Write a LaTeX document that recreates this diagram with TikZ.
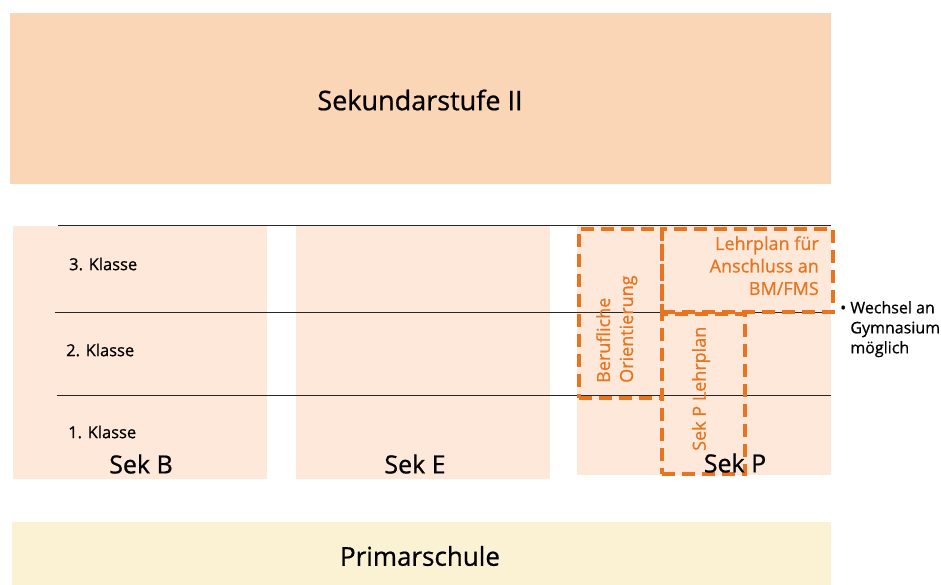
\documentclass[tikz,border=0pt]{standalone}
\usepackage{fontspec}
\setmainfont{Open Sans}[FakeBold=0.7]
\definecolor{peach}{HTML}{FAD5B6}
\definecolor{lightpeach}{HTML}{FDE8DA}
\definecolor{cream}{HTML}{FBF2D3}
\definecolor{orng}{HTML}{E8741F}
\begin{document}
\begin{tikzpicture}[x=1pt,y=-1pt,
  block/.style={anchor=north west,inner sep=0pt,outer sep=0pt,draw=none},
  dbox/.style={draw=orng,line width=3.5pt,dash pattern=on 13pt off 7pt,anchor=north west,inner sep=0pt},
  otext/.style={text=orng,font=\fontsize{18}{23}\selectfont,inner sep=0pt},
  klasse/.style={anchor=west,font=\fontsize{16.5}{20}\selectfont,inner sep=0pt},
  sek/.style={font=\fontsize{25}{30}\selectfont,inner sep=0pt},
  divider/.style={line width=1pt,draw=black!85}]
\useasboundingbox (0,0) rectangle (941,585);
% big blocks
\node[block,fill=peach,minimum width=821pt,minimum height=171pt] (s2) at (10,13) {};
\node[font=\fontsize{27}{32}\selectfont] (s2t) at (420,100) {Sekundarstufe II};
\node[block,fill=cream,minimum width=819pt,minimum height=63pt] (prim) at (12,522) {};
\node[font=\fontsize{26}{31}\selectfont] (primt) at (420,556) {Primarschule};
% columns
\node[block,fill=lightpeach,minimum width=254pt,minimum height=253pt] (sb) at (13,226) {};
\node[block,fill=lightpeach,minimum width=254pt,minimum height=253pt] (se) at (296,226) {};
\node[block,fill=lightpeach,minimum width=254pt,minimum height=249pt] (sp) at (577,226) {};
% dividers
\coordinate (l1a) at (58,226); \coordinate (l1b) at (831,226);
\coordinate (l2a) at (55,312); \coordinate (l2b) at (833,312);
\coordinate (l3a) at (57,395); \coordinate (l3b) at (831,395);
\draw[divider] (l1a) -- (l1b);
\draw[divider] (l2a) -- (l2b);
\draw[divider] (l3a) -- (l3b);
% class labels
\node[klasse] (k3) at (69,264) {3. Klasse};
\node[klasse] (k2) at (66,350) {2. Klasse};
\node[klasse] (k1) at (68,432) {1. Klasse};
% Sek labels
\node[sek] (sbt) at (141,464) {Sek B};
\node[sek] (set) at (415,464) {Sek E};
% dashed boxes
\node[dbox,minimum width=83pt,minimum height=169pt] (bo) at (577,227) {};
\node[dbox,minimum width=171pt,minimum height=83pt] (lp) at (660,227) {};
\node[dbox,minimum width=83pt,minimum height=160pt] (spl) at (660,312) {};
\node[sek] (spt) at (735,463) {Sek P};
\node[otext,rotate=90,anchor=north west,align=left,font=\fontsize{18}{23}\selectfont] (bot) at (596,383) {Berufliche\\Orientierung};
\node[otext,rotate=90,anchor=west] (splt) at (701,451) {Sek P Lehrplan};
\node[otext,anchor=north east,align=right,font=\fontsize{18}{22.5}\selectfont] (lpt) at (819,236) {Lehrplan für\\Anschluss an\\BM/FMS};
% note
\node[anchor=north west,align=left,inner sep=0pt,font=\fontsize{16}{20}\selectfont] (note) at (840,301) {• Wechsel an\\\hphantom{• }Gymnasium\\\hphantom{• }möglich};
\end{tikzpicture}
\end{document}
